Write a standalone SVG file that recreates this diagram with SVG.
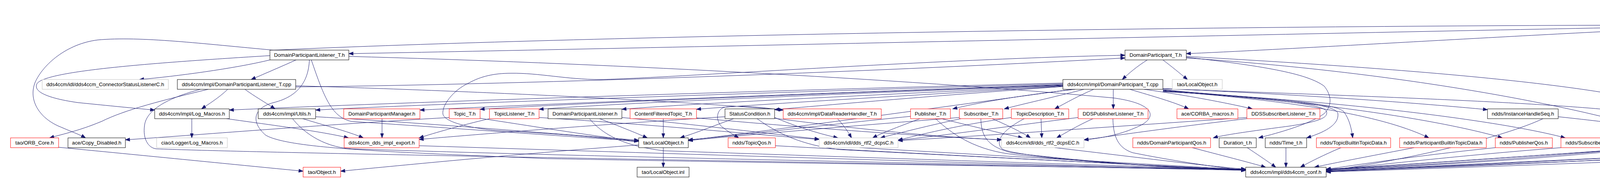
<svg xmlns="http://www.w3.org/2000/svg" width="5485" height="457" viewBox="0 0 5485 457">
<style>
rect{stroke-width:1}
.b{fill:#fff;stroke:#000}
.r{fill:#fff;stroke:#f00}
.g{fill:#fff;stroke:#bfbfbf}
.root{fill:#bfbfbf;stroke:#000}
text{font-family:"Liberation Sans",Arial,Helvetica,sans-serif;font-size:13.3px;text-anchor:middle;fill:#000}
#edges path{fill:none;stroke:#191970;stroke-width:1;marker-end:url(#a)}
</style>
<defs>
<marker id="a" markerUnits="userSpaceOnUse" markerWidth="12" markerHeight="9" refX="11" refY="4" orient="auto" overflow="visible"><path d="M0,0 L11,4 L0,8 z" fill="#191970" stroke="#191970" stroke-width="1"/></marker>
</defs>
<rect x="0" y="0" width="5485" height="457" fill="#fff"/>
<g id="edges">
<path d="M4281,68 C3500,82 1600,124 893,137"/>
<path d="M4281,64 C3000,66 1500,92 700,128 C520,112 360,92 250,102 C170,112 110,165 90,210 C72,255 100,300 150,322 C180,335 205,344 219,352"/>
<path d="M4281,72 C3800,95 3300,126 3037,137"/>
<path d="M4358,79 C4330,100 4300,115 4289,128"/>
<path d="M4405,79 C4430,95 4460,113 4477,128"/>
<path d="M4294,79 C4200,100 4160,120 4152,160 C4148,200 4175,240 4199,278"/>
<path d="M4481,79 C4600,100 4650,130 4660,170 C4665,210 4640,250 4626,278"/>
<path d="M4484,77 C4650,120 4760,180 4834,278"/>
<path d="M4484,76 C4700,130 4900,190 5051,278"/>
<path d="M4484,75 C4800,140 5100,210 5298,278"/>
<path d="M691,153 C600,175 450,195 357,203"/>
<path d="M758,153 C720,170 680,187 643,203"/>
<path d="M691,142 C400,160 120,180 95,213 C80,240 150,255 200,262 C280,270 340,276 396,281"/>
<path d="M792,153 C790,200 770,245 700,262 C650,275 640,310 680,345 C740,380 1000,388 1400,405 C2200,420 2900,428 3189,433"/>
<path d="M797,153 C830,250 850,300 900,310 C1200,330 1500,352 1635,360"/>
<path d="M893,144 C1500,160 2300,200 2850,250 C2960,265 2960,300 2920,320 C2880,340 2830,352 2775,357"/>
<path d="M583,228 C560,250 535,265 516,278"/>
<path d="M533,228 C420,255 320,280 260,310 C200,335 150,345 127,352"/>
<path d="M513,228 C430,250 375,280 370,320 C365,355 380,378 400,380 C800,395 2500,420 3189,435"/>
<path d="M627,228 C650,245 680,262 704,278"/>
<path d="M757,219 C1300,235 1800,262 2005,281"/>
<path d="M757,222 C1400,215 2300,180 2880,148"/>
<path d="M2937,153 C2910,170 2890,187 2873,203"/>
<path d="M2977,153 C3000,170 3020,187 3040,203"/>
<path d="M3037,144 C3500,170 4100,210 4300,280 C4380,310 4420,330 4441,352"/>
<path d="M3037,146 C3250,170 3350,190 3390,220 C3410,245 3410,270 3390,290 C3350,320 3250,345 3222,352"/>
<path d="M3037,148 C3600,185 4000,270 4150,310 C4190,325 4180,370 4140,385 C3900,410 3600,425 3395,434"/>
<path d="M1628,362 C1500,345 1350,338 1268,333 C1200,326 1140,312 1134,292 C1130,270 1160,230 1200,212 C1230,195 1265,187 1308,187 C1380,186 1450,203 1536,203 C1700,200 2400,150 2880,141"/>
<path d="M1698,377 L1698,427"/>
<path d="M1635,370 C1300,395 1000,425 872,437"/>
<path d="M4278,153 C4320,200 4350,250 4340,300 C4330,340 4280,365 4200,378 C3900,400 3600,420 3395,434"/>
<path d="M4501,153 C4490,230 4475,300 4466,352"/>
<path d="M2721,212 C2000,230 1000,262 587,281"/>
<path d="M2721,214 C2000,235 1100,265 808,281"/>
<path d="M2721,216 C2100,238 1400,265 1075,281"/>
<path d="M2721,217 C2200,235 1500,262 1229,279"/>
<path d="M2721,218 C2200,238 1600,262 1380,279"/>
<path d="M2721,219 C2300,240 1800,262 1592,279"/>
<path d="M2721,220 C2400,240 2000,262 1783,279"/>
<path d="M2721,221 C2450,240 2150,265 1983,280"/>
<path d="M2752,228 C2600,245 2500,263 2439,278"/>
<path d="M2775,228 C2690,250 2620,265 2571,278"/>
<path d="M2800,228 C2760,245 2730,262 2700,278"/>
<path d="M2850,228 L2850,278"/>
<path d="M2892,228 C2950,245 3010,262 3043,278"/>
<path d="M2929,228 C3050,245 3150,265 3206,278"/>
<path d="M2977,226 C3400,245 3650,265 3808,280"/>
<path d="M2977,227 C3500,245 3900,260 4116,280"/>
<path d="M2977,229 C3200,250 3390,262 3396,285 C3400,300 3380,310 3300,322 C3200,335 3130,345 3106,352"/>
<path d="M2977,230 C3250,252 3420,262 3425,290 C3428,315 3400,335 3345,352"/>
<path d="M2977,231 C3300,255 3420,265 3440,285 C3455,305 3460,330 3463,352"/>
<path d="M2977,232 C3350,260 3550,300 3658,352"/>
<path d="M2977,233 C3400,260 3700,310 3846,352"/>
<path d="M2977,234 C3450,258 3850,310 4007,352"/>
<path d="M2745,228 C2400,275 2000,330 1762,358"/>
<path d="M491,303 L491,352"/>
<path d="M580,303 C700,320 820,335 892,352"/>
<path d="M775,303 C830,320 890,335 930,352"/>
<path d="M749,303 C770,330 820,375 900,380 C1500,400 2500,420 3189,432"/>
<path d="M808,298 C1100,315 1400,340 1635,358"/>
<path d="M978,303 L978,352"/>
<path d="M1229,302 C1350,320 1500,345 1635,361"/>
<path d="M1150,300 C800,320 500,345 321,357"/>
<path d="M1253,303 C1180,320 1110,340 1073,352"/>
<path d="M1380,300 C1700,320 1950,345 2097,356"/>
<path d="M1535,303 C1580,320 1630,340 1657,352"/>
<path d="M1509,303 C1540,340 1590,372 1700,385 C2300,405 2900,425 3189,432"/>
<path d="M1592,300 C1800,320 2000,345 2097,355"/>
<path d="M1698,303 L1698,352"/>
<path d="M1783,301 C2100,330 2400,350 2564,357"/>
<path d="M1878,303 C1830,320 1780,340 1741,352"/>
<path d="M1856,298 C1500,320 1200,345 1073,356"/>
<path d="M1938,303 C1990,340 2050,370 2150,382 C2600,405 3000,425 3189,434"/>
<path d="M1983,300 C2030,320 2090,340 2145,352"/>
<path d="M1983,302 C2200,330 2400,350 2564,357"/>
<path d="M2144,303 C2160,320 2170,335 2180,352"/>
<path d="M2005,282 C1950,272 1870,268 1851,275 C1830,285 1835,315 1850,325 C1865,337 1880,345 1891,352"/>
<path d="M2355,303 C2310,320 2260,338 2234,352"/>
<path d="M2331,297 C2100,320 1900,345 1762,357"/>
<path d="M2395,303 C2440,345 2500,385 2600,395 C2800,415 3000,428 3189,435"/>
<path d="M2410,303 C2480,320 2560,340 2618,352"/>
<path d="M2460,303 C2380,320 2300,340 2254,352"/>
<path d="M2540,303 C2580,320 2620,340 2638,352"/>
<path d="M2511,303 C2512,350 2530,375 2590,390 C2800,415 3000,428 3189,435"/>
<path d="M2456,300 C2200,320 1900,345 1762,359"/>
<path d="M2665,303 L2667,352"/>
<path d="M2589,300 C2450,320 2350,345 2299,358"/>
<path d="M2622,303 C2570,330 2545,360 2565,380 C2600,400 2900,425 3189,434"/>
<path d="M2849,303 C2850,360 2870,380 2900,390 C3000,410 3100,425 3189,435"/>
<path d="M2798,303 C2760,320 2730,338 2705,352"/>
<path d="M2760,300 C2600,320 2400,348 2299,358"/>
<path d="M3192,303 C3000,325 2850,347 2775,357"/>
<path d="M3192,300 C2900,320 2500,348 2299,359"/>
<path d="M3052,377 C3120,395 3200,415 3240,427"/>
<path d="M3193,377 C3220,395 3250,415 3266,427"/>
<path d="M3292,377 L3292,427"/>
<path d="M3433,377 C3390,395 3350,415 3329,427"/>
<path d="M3620,377 C3500,400 3420,415 3365,427"/>
<path d="M3828,377 C3600,400 3450,425 3395,432"/>
<path d="M3996,377 C3700,400 3500,425 3395,434"/>
<path d="M2200,377 C2600,400 2950,420 3189,433"/>
<path d="M2700,377 C2900,400 3050,420 3189,432"/>
<path d="M1073,372 C1800,395 2600,420 3189,434"/>
<path d="M1985,372 C2400,395 2900,420 3189,434"/>
<path d="M4335,372 C4000,390 3700,415 3395,432"/>
<path d="M5211,372 C4600,395 4000,420 3395,439"/>
<path d="M3989,298 C4150,315 4300,335 4365,352"/>
<path d="M3950,303 C3850,350 3600,410 3395,436"/>
<path d="M4290,303 C4320,320 4350,338 4370,352"/>
<path d="M4180,303 C4185,340 4180,370 4150,382 C3900,405 3600,425 3395,433"/>
<path d="M4584,303 C4550,320 4520,335 4492,352"/>
<path d="M4614,303 C4616,345 4610,372 4590,380 C4300,395 3800,418 3395,436"/>
<path d="M4776,303 C4680,320 4600,338 4530,352"/>
<path d="M4820,303 C4750,340 4690,360 4600,378 C4200,400 3800,420 3395,437"/>
<path d="M4973,303 C4800,320 4650,340 4568,352"/>
<path d="M5033,303 C4900,340 4700,370 4400,395 C4000,415 3600,428 3395,437"/>
<path d="M5335,303 C5320,325 5310,340 5303,352"/>
<path d="M5276,303 C5000,350 4600,395 3395,438"/>
<path d="M150,376 C400,400 650,425 776,437"/>
</g>
<g id="n_root"><rect class="root" x="4281" y="54" width="203" height="25"/><text x="4382.5" y="71">DomainParticipantListener.cpp</text></g>
<g id="n_dplth"><rect class="b" x="691" y="128" width="202" height="25"/><text x="792" y="145">DomainParticipantListener_T.h</text></g>
<g id="n_dpth"><rect class="b" x="2880" y="128" width="157" height="25"/><text x="2958.5" y="145">DomainParticipant_T.h</text></g>
<g id="n_slost"><rect class="b" x="4176" y="128" width="173" height="25"/><text x="4262.5" y="145">ndds/SampleLostStatus.h</text></g>
<g id="n_rdm"><rect class="b" x="4374" y="128" width="261" height="25"/><text x="4504.5" y="145">ndds/RequestedDeadlineMissedStatus.h</text></g>
<g id="n_cslc"><rect class="g" x="108" y="203" width="323" height="25"/><text x="269.5" y="220">dds4ccm/idl/dds4ccm_ConnectorStatusListenerC.h</text></g>
<g id="n_dpltcpp"><rect class="b" x="454" y="203" width="303" height="25"/><text x="605.5" y="220">dds4ccm/impl/DomainParticipantListener_T.cpp</text></g>
<g id="n_dptcpp"><rect class="b" x="2721" y="203" width="256" height="25"/><text x="2849" y="220">dds4ccm/impl/DomainParticipant_T.cpp</text></g>
<g id="n_lo2"><rect class="g" x="3001" y="203" width="128" height="25"/><text x="3065" y="220">tao/LocalObject.h</text></g>
<g id="n_logm"><rect class="b" x="396" y="278" width="191" height="25"/><text x="491.5" y="295">dds4ccm/impl/Log_Macros.h</text></g>
<g id="n_utils"><rect class="b" x="661" y="278" width="147" height="25"/><text x="734.5" y="295">dds4ccm/impl/Utils.h</text></g>
<g id="n_dpm"><rect class="r" x="880" y="278" width="195" height="25"/><text x="977.5" y="295">DomainParticipantManager.h</text></g>
<g id="n_topic"><rect class="r" x="1150" y="278" width="79" height="25"/><text x="1189.5" y="295">Topic_T.h</text></g>
<g id="n_tl"><rect class="r" x="1253" y="278" width="127" height="25"/><text x="1316.5" y="295">TopicListener_T.h</text></g>
<g id="n_dplh"><rect class="b" x="1403" y="278" width="189" height="25"/><text x="1497.5" y="295">DomainParticipantListener.h</text></g>
<g id="n_cft"><rect class="r" x="1613" y="278" width="170" height="25"/><text x="1698" y="295">ContentFilteredTopic_T.h</text></g>
<g id="n_sc"><rect class="b" x="1856" y="278" width="127" height="25"/><text x="1919.5" y="295">StatusCondition.h</text></g>
<g id="n_drh"><rect class="r" x="2005" y="278" width="251" height="25"/><text x="2130.5" y="295">dds4ccm/impl/DataReaderHandler_T.h</text></g>
<g id="n_pub"><rect class="r" x="2331" y="278" width="102" height="25"/><text x="2382" y="295">Publisher_T.h</text></g>
<g id="n_sub"><rect class="r" x="2456" y="278" width="111" height="25"/><text x="2511.5" y="295">Subscriber_T.h</text></g>
<g id="n_td"><rect class="r" x="2589" y="278" width="147" height="25"/><text x="2662.5" y="295">TopicDescription_T.h</text></g>
<g id="n_ddspl"><rect class="r" x="2760" y="278" width="179" height="25"/><text x="2849.5" y="295">DDSPublisherListener_T.h</text></g>
<g id="n_corba"><rect class="r" x="3013" y="278" width="156" height="25"/><text x="3091" y="295">ace/CORBA_macros.h</text></g>
<g id="n_ddssl"><rect class="r" x="3192" y="278" width="187" height="25"/><text x="3285.5" y="295">DDSSubscriberListener_T.h</text></g>
<g id="n_ihs"><rect class="b" x="3808" y="278" width="181" height="25"/><text x="3898.5" y="295">ndds/InstanceHandleSeq.h</text></g>
<g id="n_basec"><rect class="g" x="4116" y="278" width="207" height="25"/><text x="4219.5" y="295">dds4ccm/idl/dds4ccm_BaseC.h</text></g>
<g id="n_smatch"><rect class="b" x="4499" y="278" width="228" height="25"/><text x="4613" y="295">ndds/SubscriptionMatchedStatus.h</text></g>
<g id="n_srej"><rect class="b" x="4749" y="278" width="203" height="25"/><text x="4850.5" y="295">ndds/SampleRejectedStatus.h</text></g>
<g id="n_live"><rect class="b" x="4973" y="278" width="216" height="25"/><text x="5081" y="295">ndds/LivelinessChangedStatus.h</text></g>
<g id="n_riq"><rect class="b" x="5213" y="278" width="267" height="25"/><text x="5346.5" y="295">ndds/RequestedIncompatibleQosStatus.h</text></g>
<g id="n_orb"><rect class="r" x="27" y="352" width="123" height="25"/><text x="88.5" y="369">tao/ORB_Core.h</text></g>
<g id="n_copy"><rect class="b" x="174" y="352" width="147" height="25"/><text x="247.5" y="369">ace/Copy_Disabled.h</text></g>
<g id="n_ciaolog"><rect class="g" x="401" y="352" width="181" height="25"/><text x="491.5" y="369">ciao/Logger/Log_Macros.h</text></g>
<g id="n_export"><rect class="r" x="881" y="352" width="192" height="25"/><text x="977" y="369">dds4ccm_dds_impl_export.h</text></g>
<g id="n_lo"><rect class="b" x="1635" y="352" width="127" height="25"/><text x="1698.5" y="369">tao/LocalObject.h</text></g>
<g id="n_tqos"><rect class="r" x="1864" y="352" width="121" height="25"/><text x="1924.5" y="369">ndds/TopicQos.h</text></g>
<g id="n_dcpsc"><rect class="g" x="2097" y="352" width="202" height="25"/><text x="2198" y="369">dds4ccm/idl/dds_rtf2_dcpsC.h</text></g>
<g id="n_dcpsec"><rect class="g" x="2564" y="352" width="211" height="25"/><text x="2669.5" y="369">dds4ccm/idl/dds_rtf2_dcpsEC.h</text></g>
<g id="n_dpqos"><rect class="r" x="2900" y="352" width="199" height="25"/><text x="2999.5" y="369">ndds/DomainParticipantQos.h</text></g>
<g id="n_dur"><rect class="b" x="3121" y="352" width="95" height="25"/><text x="3168.5" y="369">Duration_t.h</text></g>
<g id="n_time"><rect class="b" x="3239" y="352" width="106" height="25"/><text x="3292" y="369">ndds/Time_t.h</text></g>
<g id="n_tbtd"><rect class="r" x="3370" y="352" width="190" height="25"/><text x="3465" y="369">ndds/TopicBuiltinTopicData.h</text></g>
<g id="n_pbtd"><rect class="r" x="3583" y="352" width="222" height="25"/><text x="3694" y="369">ndds/ParticipantBuiltinTopicData.h</text></g>
<g id="n_pubqos"><rect class="r" x="3828" y="352" width="146" height="25"/><text x="3901" y="369">ndds/PublisherQos.h</text></g>
<g id="n_subqos"><rect class="r" x="3996" y="352" width="155" height="25"/><text x="4073.5" y="369">ndds/SubscriberQos.h</text></g>
<g id="n_iht"><rect class="b" x="4335" y="352" width="254" height="25"/><text x="4462" y="369">dds4ccm/impl/ndds/InstanceHandle_t.h</text></g>
<g id="n_qpcs"><rect class="b" x="5211" y="352" width="153" height="25"/><text x="5287.5" y="369">QosPolicyCountSeq.h</text></g>
<g id="n_obj"><rect class="r" x="776" y="427" width="96" height="25"/><text x="824" y="444">tao/Object.h</text></g>
<g id="n_loinl"><rect class="b" x="1631" y="427" width="133" height="25"/><text x="1697.5" y="444">tao/LocalObject.inl</text></g>
<g id="n_conf"><rect class="b" x="3189" y="427" width="206" height="25"/><text x="3292" y="444">dds4ccm/impl/dds4ccm_conf.h</text></g>
</svg>
